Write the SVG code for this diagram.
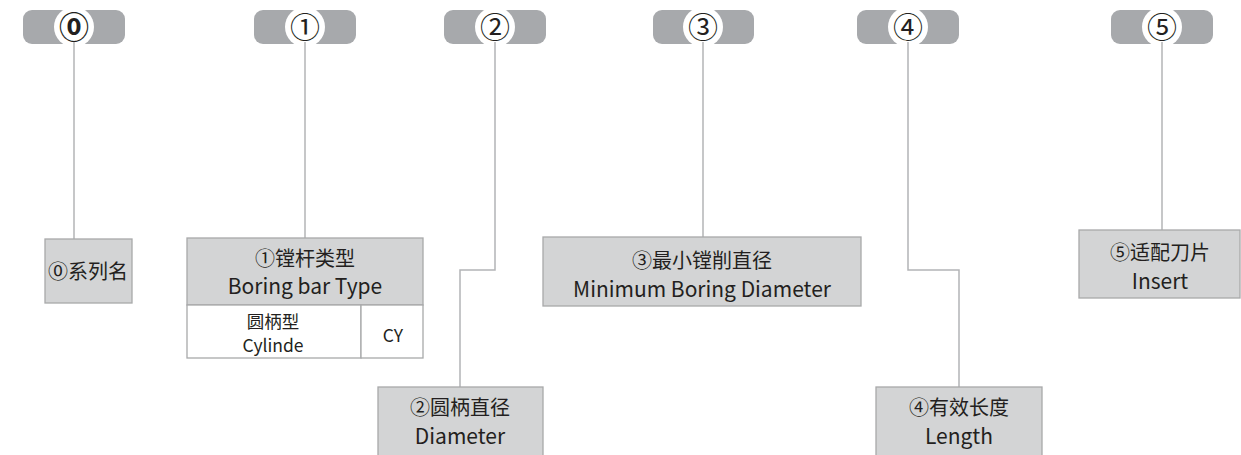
<svg xmlns="http://www.w3.org/2000/svg" width="1241" height="455" viewBox="0 0 1241 455">
<style>
.badge{fill:#a7a9ac}
.hole{fill:#ffffff}
.num{font-family:"Noto Sans CJK SC","Noto Sans",sans-serif;font-size:30px;fill:#231f20;text-anchor:middle}
.box{fill:#d3d4d5;stroke:#a8a9aa;stroke-width:1.3}
.cell{fill:#ffffff;stroke:#a8a9aa;stroke-width:1.3}
.t{font-family:"Noto Sans CJK SC","Noto Sans",sans-serif;font-size:21px;fill:#231f20;text-anchor:middle}
.c{font-family:"Noto Sans CJK SC","Noto Sans",sans-serif;font-size:20px;fill:#231f20;text-anchor:middle}
.s{font-family:"Noto Sans CJK SC","Noto Sans",sans-serif;font-size:17.5px;fill:#231f20;text-anchor:middle}
.conn{fill:none;stroke:#b3b4b6;stroke-width:1.5}
</style>
<g id="badges">
<g id="badge0"><rect class="badge" x="23" y="10" width="102" height="34" rx="9"/><circle class="hole" cx="74" cy="27" r="20"/><text class="num" x="74" y="37.5" font-weight="bold">⓪</text></g>
<g id="badge1"><rect class="badge" x="254" y="10" width="102" height="34" rx="9"/><circle class="hole" cx="305" cy="27" r="20"/><text class="num" x="305" y="37.5">①</text></g>
<g id="badge2"><rect class="badge" x="444" y="10" width="102" height="34" rx="9"/><circle class="hole" cx="495" cy="27" r="20"/><text class="num" x="495" y="37.5">②</text></g>
<g id="badge3"><rect class="badge" x="653" y="10" width="101" height="34" rx="9"/><circle class="hole" cx="703" cy="27" r="20"/><text class="num" x="703" y="37.5">③</text></g>
<g id="badge4"><rect class="badge" x="857" y="10" width="102" height="34" rx="9"/><circle class="hole" cx="908" cy="27" r="20"/><text class="num" x="908" y="37.5">④</text></g>
<g id="badge5"><rect class="badge" x="1111" y="10" width="102" height="34" rx="9"/><circle class="hole" cx="1162" cy="27" r="20"/><text class="num" x="1162" y="37.5">⑤</text></g>
</g>
<g id="connectors">
<path class="conn" d="M74 42 V239"/>
<path class="conn" d="M305 42 V238"/>
<path class="conn" d="M495 42 V270 H460 V387"/>
<path class="conn" d="M703 42 V237"/>
<path class="conn" d="M908 42 V270 H959 V387"/>
<path class="conn" d="M1162 42 V230"/>
</g>
<g id="node0">
<rect class="box" x="45" y="239" width="87" height="64"/>
<text class="c" x="88" y="279">⓪系列名</text>
</g>
<g id="node1">
<rect class="box" x="187" y="238" width="236" height="67"/>
<rect class="cell" x="187" y="305" width="174" height="53"/>
<rect class="cell" x="361" y="305" width="62" height="53"/>
<text class="c" x="305" y="266">①镗杆类型</text>
<text class="t" x="305" y="294">Boring bar Type</text>
<text class="s" x="273" y="328">圆柄型</text>
<text class="s" x="273" y="352">Cylinde</text>
<text class="s" x="393" y="342">CY</text>
</g>
<g id="node2">
<rect class="box" x="378" y="387" width="165" height="72"/>
<text class="c" x="460" y="415">②圆柄直径</text>
<text class="t" x="460" y="444">Diameter</text>
</g>
<g id="node3">
<rect class="box" x="543" y="237" width="318" height="69"/>
<text class="c" x="702" y="268">③最小镗削直径</text>
<text class="t" x="702" y="297">Minimum Boring Diameter</text>
</g>
<g id="node4">
<rect class="box" x="876" y="387" width="166" height="72"/>
<text class="c" x="959" y="415">④有效长度</text>
<text class="t" x="959" y="444">Length</text>
</g>
<g id="node5">
<rect class="box" x="1079" y="230" width="161" height="68"/>
<text class="c" x="1160" y="260">⑤适配刀片</text>
<text class="t" x="1160" y="289">Insert</text>
</g>
</svg>
